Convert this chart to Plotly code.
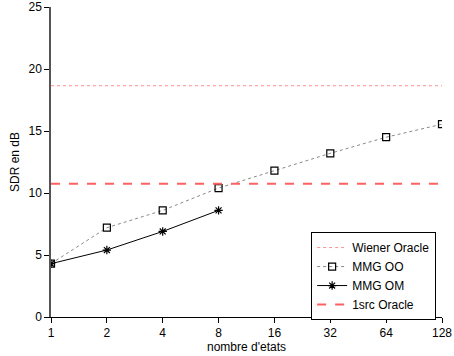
import plotly.graph_objects as go

states = [1, 2, 4, 8, 16, 32, 64, 128]
mmg_oo = [4.3, 7.2, 8.6, 10.4, 11.8, 13.2, 14.5, 15.55]
states_om = [1, 2, 4, 8]
mmg_om = [4.3, 5.4, 6.9, 8.6]
wiener_oracle = 18.65
src1_oracle = 10.75
xticks = [1, 2, 4, 8, 16, 32, 64, 128]
yticks = [0, 5, 10, 15, 20, 25]

fig = go.Figure()
fig.add_trace(go.Scatter(x=[states[0], states[-1]], y=[wiener_oracle]*2, mode="lines",
                         name="Wiener Oracle", line=dict(color="#ff9090", dash="dot", width=1)))
fig.add_trace(go.Scatter(x=states, y=mmg_oo, mode="lines+markers", name="MMG OO",
                         line=dict(color="#888888", dash="dot", width=1),
                         marker=dict(symbol="square-open", size=7, color="black", line=dict(width=1.2))))
fig.add_trace(go.Scatter(x=states_om, y=mmg_om, mode="lines+markers", name="MMG OM",
                         line=dict(color="black", width=1),
                         marker=dict(symbol="asterisk-open", size=7, color="black", line=dict(width=1.2))))
fig.add_trace(go.Scatter(x=[states[0], states[-1]], y=[src1_oracle]*2, mode="lines",
                         name="1src Oracle", line=dict(color="#ff6060", dash="dash", width=2)))

fig.update_layout(
    width=454, height=356,
    margin=dict(l=51, r=12, t=7, b=39, autoexpand=False),
    plot_bgcolor="white", paper_bgcolor="white",
    font=dict(family="Liberation Sans, Arial, sans-serif", size=12, color="black"),
    showlegend=True,
    legend=dict(x=0.985, y=0.274, xanchor="right", yanchor="top",
                bordercolor="black", borderwidth=1, bgcolor="white",
                font=dict(size=12), tracegroupgap=0, itemwidth=30),
)
fig.update_xaxes(type="log", range=[0, 2.10721], tickvals=xticks, ticktext=[str(v) for v in xticks],
                 showgrid=False, zeroline=False, showline=True, linecolor="black", linewidth=1,
                 ticks="outside", ticklen=5, tickcolor="black", automargin=False,
                 title=dict(text="nombre d'etats", standoff=2, font=dict(size=12)))
fig.update_yaxes(range=[0, 25], tickvals=yticks, showgrid=False, zeroline=False,
                 showline=True, linecolor="#555555", linewidth=1.5,
                 ticks="outside", ticklen=5, tickcolor="black", automargin=False,
                 title=dict(text="SDR en dB", standoff=6, font=dict(size=12)))

fig.write_html("out.html", config={"displayModeBar": False},
               post_script="document.body.style.margin='0';document.body.style.padding='0';")
